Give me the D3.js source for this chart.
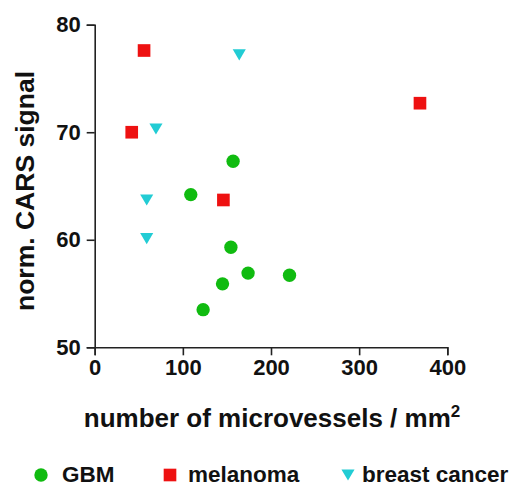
<!DOCTYPE html>
<html>
<head>
<meta charset="utf-8">
<script src="https://cdn.jsdelivr.net/npm/d3@7"></script>
<style>
  html, body { margin: 0; padding: 0; background: #fff; }
  svg { display: block; font-family: "Liberation Sans", Arial, sans-serif; font-weight: bold; }
</style>
</head>
<body>
<svg id="chart" width="511" height="486"></svg>
<script>
// Microvessel density vs. normalised CARS signal, per tumour type
const gbmX = [157, 109, 154.5, 174, 221, 145, 123];
const gbmY = [67.3, 64.2, 59.3, 56.9, 56.7, 55.9, 53.5];
const melanomaX = [56, 42, 369, 146];
const melanomaY = [77.6, 70.0, 72.7, 63.7];
const breastX = [164, 69.5, 59, 59];
const breastY = [77.2, 70.3, 63.7, 60.1];

const xTicks = [0, 100, 200, 300, 400];
const yTicks = [50, 60, 70, 80];
const seriesNames = ["GBM", "melanoma", "breast cancer"];
const seriesColors = ["#10bb10", "#ee1111", "#22ccd4"];

const svg = d3.select("#chart");
const x = d3.scaleLinear().domain([0, 400]).range([94.7, 447.3]);
const y = d3.scaleLinear().domain([50, 80]).range([347.3, 24.7]);

const axisColor = "#222";

const xAxis = svg.append("g")
  .attr("transform", `translate(0,${y(50)})`)
  .call(d3.axisBottom(x).tickValues(xTicks).tickSize(8).tickPadding(4));
const yAxis = svg.append("g")
  .attr("transform", `translate(${x(0)},0)`)
  .call(d3.axisLeft(y).tickValues(yTicks).tickSize(8).tickPadding(6));

[xAxis, yAxis].forEach(g => {
  g.select(".domain").attr("stroke", axisColor).attr("stroke-width", 1.6);
  g.selectAll(".tick line").attr("stroke", axisColor).attr("stroke-width", 1.6);
  g.selectAll(".tick text")
    .attr("fill", "#111")
    .style("font-family", "'Liberation Sans', Arial, sans-serif")
    .style("font-weight", "bold")
    .style("font-size", "22px");
});

// axis titles
const xTitle = svg.append("text")
  .attr("x", 272).attr("y", 427)
  .attr("text-anchor", "middle")
  .attr("fill", "#111")
  .style("font-size", "26px");
xTitle.append("tspan").text("number of microvessels / mm");
xTitle.append("tspan").attr("dy", -10).style("font-size", "17px").text("2");

svg.append("text")
  .attr("transform", `translate(34,191) rotate(-90)`)
  .attr("text-anchor", "middle")
  .attr("fill", "#111")
  .style("font-size", "26.5px")
  .text("norm. CARS signal");

// data marks
const gbm = gbmX.map((v, i) => ({ x: v, y: gbmY[i] }));
const mel = melanomaX.map((v, i) => ({ x: v, y: melanomaY[i] }));
const brc = breastX.map((v, i) => ({ x: v, y: breastY[i] }));

const circle = d3.symbol().type(d3.symbolCircle).size(140);
const square = d3.symbol().type(d3.symbolSquare).size(160);
const triDown = d3.symbol().type({
  draw(ctx, size) {
    const w = Math.sqrt(size) * 1.15, h = w * 0.85;
    ctx.moveTo(-w / 2, -h / 2);
    ctx.lineTo(w / 2, -h / 2);
    ctx.lineTo(0, h / 2);
    ctx.closePath();
  }
}).size(130);

const marks = svg.append("g");
marks.selectAll(".gbm").data(gbm).join("path")
  .attr("class", "gbm")
  .attr("d", circle)
  .attr("transform", d => `translate(${x(d.x)},${y(d.y)})`)
  .attr("fill", seriesColors[0]);
marks.selectAll(".mel").data(mel).join("path")
  .attr("class", "mel")
  .attr("d", square)
  .attr("transform", d => `translate(${x(d.x)},${y(d.y)})`)
  .attr("fill", seriesColors[1]);
marks.selectAll(".brc").data(brc).join("path")
  .attr("class", "brc")
  .attr("d", triDown)
  .attr("transform", d => `translate(${x(d.x)},${y(d.y)})`)
  .attr("fill", seriesColors[2]);

// legend
const legendSymbols = [circle, square, triDown];
const legendX = [41, 170, 348];
const legendGap = [21, 18, 14];
const legend = svg.append("g");
seriesNames.forEach((name, i) => {
  legend.append("path")
    .attr("d", legendSymbols[i])
    .attr("transform", `translate(${legendX[i]},475)`)
    .attr("fill", seriesColors[i]);
  legend.append("text")
    .attr("x", legendX[i] + legendGap[i])
    .attr("y", 482)
    .attr("fill", "#111")
    .style("font-size", "22.5px")
    .text(name);
});
</script>
</body>
</html>
